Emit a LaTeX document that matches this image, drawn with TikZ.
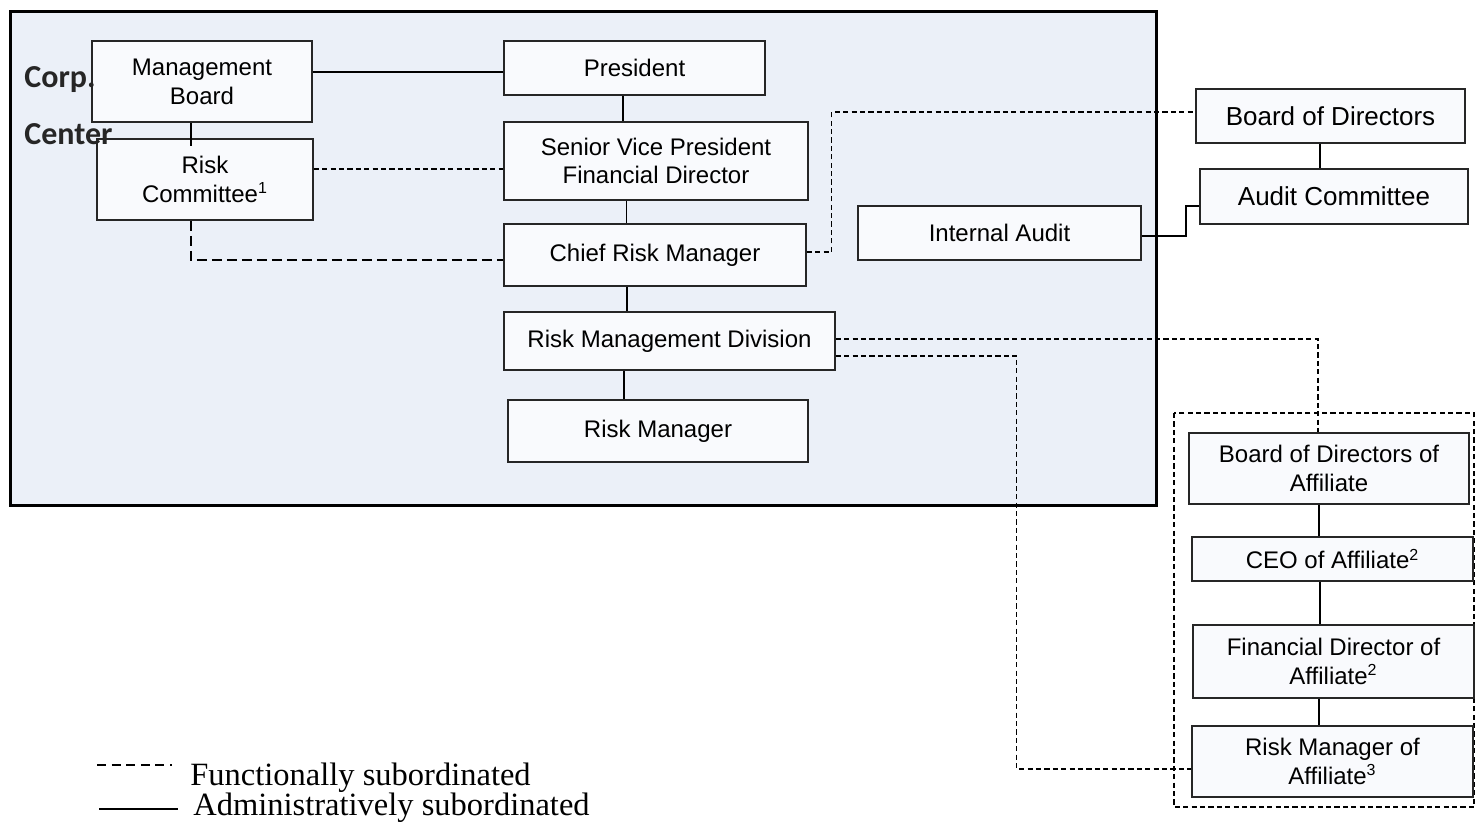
\documentclass[tikz,border=0pt]{standalone}
\usepackage{fontspec}
\setmainfont{Liberation Sans}
\newfontfamily\carlitofont{Carlito}
\newfontfamily\legendfont{Liberation Serif}
\definecolor{outerfill}{HTML}{EBF0F8}
\definecolor{boxfill}{HTML}{F9FAFD}
\definecolor{boxline}{HTML}{262626}
\begin{document}
\begin{tikzpicture}[x=0.5pt,y=-0.5pt,
  box/.style={draw=boxline, fill=boxfill, line width=0.75pt, align=center, inner sep=0pt,
              font=\fontsize{12}{14.5}\selectfont},
  bigbox/.style={box, font=\fontsize{13}{15}\selectfont},
  adm/.style={draw=black, line width=0.7pt},
  admthick/.style={draw=black, line width=1.2pt},
  fun/.style={draw=black, line width=0.7pt, dash pattern=on 2.6pt off 1.6pt},
  funthick/.style={draw=black, line width=1.1pt, dash pattern=on 5pt off 2.5pt},
  sidelabel/.style={anchor=base west, inner sep=0pt, text=boxline,
              font=\carlitofont\bfseries\fontsize{16}{18}\selectfont},
  legendtext/.style={anchor=base west, inner sep=0pt, font=\legendfont\fontsize{16.25}{18}\selectfont}]
\useasboundingbox (0,0) rectangle (1475,821);
% corporate centre frame
\draw[fill=outerfill, line width=1.5pt] (10,11) rectangle (1156,505);
% affiliate frame
\draw[fun] (1174,413) rectangle (1474,807);

% nodes
\node[box, minimum width=110pt, minimum height=40.5pt] (MB) at (202,81.5) {Management\\Board};
\node[box, minimum width=108pt, minimum height=40.5pt] (RC) at (205,179.5) {Risk\\Committee\textsuperscript{1}};
\node[box, minimum width=130.5pt, minimum height=27pt] (P) at (634.5,68) {President};
\node[box, minimum width=152pt, minimum height=39pt, font=\fontsize{12}{14}\selectfont] (SVP) at (656,161) {Senior Vice President\\Financial Director};
\node[box, minimum width=151pt, minimum height=31pt] (CRM) at (655,255) {Chief Risk Manager};
\node[box, minimum width=165.5pt, minimum height=29pt] (RMD) at (669.5,341) {Risk Management Division};
\node[box, minimum width=150pt, minimum height=31pt] (RM) at (658,431) {Risk Manager};
\node[box, minimum width=141.5pt, minimum height=27pt] (IA) at (999.5,233) {Internal Audit};
\node[bigbox, minimum width=134.5pt, minimum height=27pt] (BoD) at (1330.5,116) {Board of Directors};
\node[bigbox, minimum width=134pt, minimum height=27.5pt] (AC) at (1334,196.5) {Audit Committee};
\node[box, minimum width=140pt, minimum height=35.5pt] (BoDA) at (1329,468.5) {Board of Directors of\\Affiliate};
\node[box, minimum width=140.5pt, minimum height=22pt] (CEO) at (1332.5,559) {CEO of Affiliate\textsuperscript{2}};
\node[box, minimum width=140.5pt, minimum height=36.5pt] (FD) at (1333.5,661.5) {Financial Director of\\Affiliate\textsuperscript{2}};
\node[box, minimum width=140.5pt, minimum height=35.5pt] (RMA) at (1332.5,761.5) {Risk Manager of\\Affiliate\textsuperscript{3}};

% administrative (solid) connectors
\draw[adm] ([yshift=-2pt]P.west) -- ([yshift=-2pt]P.west -| MB.east);
\draw[adm] ([xshift=-5.5pt]MB.south) -- ++(0,23);
\draw[adm] ([xshift=-5.75pt]P.south) -- ([xshift=-5.75pt]P.south |- SVP.north);
\draw[adm] ([xshift=-14.75pt]SVP.south) -- ([xshift=-14.75pt]SVP.south |- CRM.north);
\draw[adm] ([xshift=-14pt]CRM.south) -- ([xshift=-14pt]CRM.south |- RMD.north);
\draw[adm] ([xshift=-17pt]RM.north) -- ([xshift=-17pt]RM.north |- RMD.south);
\draw[admthick] ([yshift=-1.5pt]IA.east) -- ++(44,0) |- ([yshift=-4.75pt]AC.west);
\draw[adm] ([xshift=-5.25pt]BoD.south) -- ([xshift=-5.25pt]BoD.south |- AC.north);
\draw[adm] ([xshift=-5pt]BoDA.south) -- ([xshift=-5pt]BoDA.south |- CEO.north);
\draw[line width=1pt] ([xshift=-6.25pt]CEO.south) -- ([xshift=-6.25pt]CEO.south |- FD.north);
\draw[adm] ([xshift=-7.25pt]FD.south) -- ([xshift=-7.25pt]FD.south |- RMA.north);

% functional (dashed) connectors
\draw[fun] ([yshift=5.25pt]RC.east) -- ([yshift=5.25pt]RC.east -| SVP.west);
\draw[funthick] ([xshift=-7pt]RC.south) |- ([yshift=-2.5pt]CRM.west);
\draw[fun] ([yshift=1.5pt]CRM.east) -- ++(25,0) |- ([yshift=2pt]BoD.west);
\draw[fun] ([yshift=1pt]RMD.east) -| ([xshift=-5.5pt]BoDA.north);
\draw[fun] ([yshift=-7.5pt]RMD.east) -- ++(181,0) |- ([yshift=-3.75pt]RMA.west);

% side label
\node[sidelabel] (corp) at (24,87) {Corp.};
\node[sidelabel] (center) at (24,144) {Center};

% legend
\coordinate (ld1) at (97,765);
\coordinate (ld2) at (172,765);
\draw[black, line width=0.7pt, dash pattern=on 4.5pt off 2.8pt] (ld1) -- (ld2);
\node[legendtext] (lf) at (190,785) {Functionally subordinated};
\coordinate (ls1) at (99,809);
\coordinate (ls2) at (178,809);
\draw[black, line width=1pt] (ls1) -- (ls2);
\node[legendtext] (la) at (193,815) {Administratively subordinated};
\end{tikzpicture}
\end{document}
